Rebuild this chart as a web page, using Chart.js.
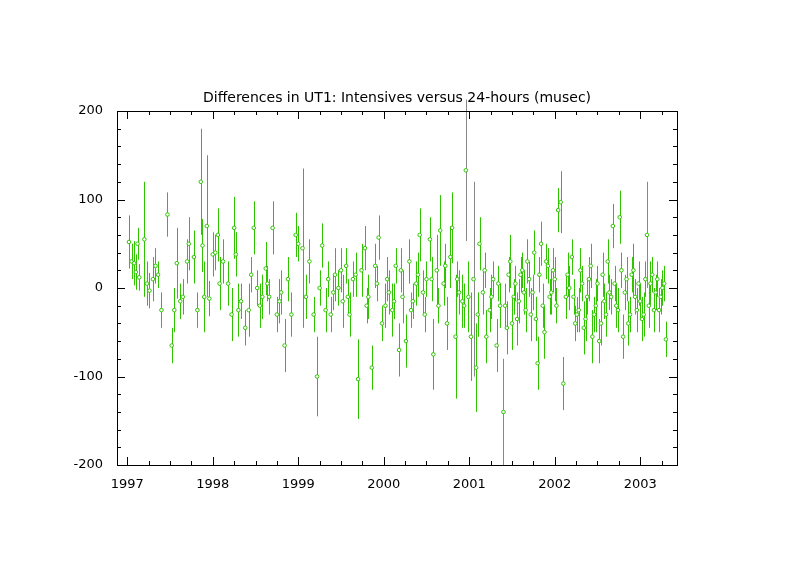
<!DOCTYPE html>
<html><head><meta charset="utf-8">
<script src="https://cdn.jsdelivr.net/npm/chart.js@4"></script>
<style>body{margin:0;background:#fff}#wrap{width:794px;height:577px}</style>
</head><body><div id="wrap"><canvas id="chart"></canvas></div>
<script>
const titleText = 'Differences in UT1: Intensives versus 24-hours (musec)';
const yearTicks = [1997, 1998, 1999, 2000, 2001, 2002, 2003];
const valueTicks = [-200, -100, 0, 100, 200];

const dates = [
  1997.02,1997.05,1997.08,1997.10,1997.12,1997.14,1997.20,1997.23,1997.26,1997.30,1997.33,1997.36,1997.40,1997.47,1997.52,1997.55,1997.58,1997.62,1997.65,1997.70,1997.72,1997.78,1997.82,1997.86,1997.88,1997.90,1997.93,1997.96,
  1998.00,1998.03,1998.06,1998.08,1998.12,1998.18,1998.22,1998.25,1998.27,1998.30,1998.33,1998.38,1998.42,1998.48,1998.52,1998.58,1998.62,1998.66,1998.70,1998.75,1998.80,1998.84,1998.88,1998.92,1998.97,
  1999.00,1999.05,1999.09,1999.13,1999.18,1999.22,1999.25,1999.28,1999.32,1999.38,1999.43,1999.47,1999.52,1999.56,1999.60,1999.64,1999.70,1999.74,1999.78,1999.82,1999.86,1999.90,1999.94,1999.98,
  2000.02,2000.06,2000.10,2000.14,2000.18,2000.22,2000.26,2000.30,2000.34,2000.38,2000.42,2000.46,2000.50,2000.54,2000.58,2000.62,2000.66,2000.70,2000.74,2000.78,2000.80,2000.84,2000.88,2000.92,2000.96,2000.99,
  2001.02,2001.05,2001.08,2001.12,2001.16,2001.20,2001.24,2001.28,2001.32,2001.36,2001.40,2001.44,2001.48,2001.52,2001.56,2001.60,2001.64,2001.68,2001.72,2001.76,2001.80,2001.84,2001.88,2001.92,2001.96,
  2002.00,2002.04,2002.07,2002.10,2002.13,2002.17,2002.20,2002.24,2002.28,2002.32,2002.36,2002.40,2002.44,2002.48,2002.52,2002.56,2002.60,2002.64,2002.68,2002.72,2002.76,2002.80,2002.84,2002.88,2002.92,2002.96,
  2003.00,2003.04,2003.08,2003.12,2003.16,2003.20,2003.24,2003.28,2003.30,
  1998.45,1998.55,1998.64,1998.78,1999.35,1999.41,1999.50,1999.58,1999.67,1999.80,1999.92,
  2000.04,2000.12,2000.20,2000.32,2000.40,2000.48,2000.56,2000.64,2000.72,2000.86,2000.94,
  2001.10,2001.18,2001.26,2001.34,2001.42,2001.46,2001.50,2001.54,2001.58,2001.62,2001.66,2001.70,2001.74,2001.78,2001.82,2001.86,2001.90,2001.94,2001.98,
  2002.02,2002.15,2002.22,2002.26,2002.30,2002.34,2002.38,2002.42,2002.46,2002.50,2002.54,2002.58,2002.62,2002.66,2002.70,2002.74,2002.78,2002.82,2002.86,2002.90,2002.94,2002.98,
  2003.02,2003.06,2003.10,2003.14,2003.18,2003.22,2003.26
];
const diffs = [
  52,30,28,18,50,12,55,5,-3,10,25,15,-25,83,-65,-25,28,-15,-10,30,50,35,-25,120,48,-10,70,-12,
  38,40,60,5,30,5,-30,68,38,-25,-15,-45,-25,68,0,-10,22,-10,68,-30,-5,-65,10,-30,60,
  50,45,-10,30,-30,-100,0,48,-25,-30,15,0,-15,25,-30,10,-103,20,45,-10,-90,25,57,-40,
  -20,-5,-25,25,-70,-10,-60,30,-15,5,60,-5,10,55,-75,20,65,5,-40,35,68,-55,-5,-15,133,-10,
  -55,10,-90,50,-5,-55,-25,10,-65,-20,-140,-45,30,-10,-35,15,-5,30,-30,40,-85,50,-50,25,-5,
  10,88,97,-108,-10,0,35,-40,-25,5,-35,10,-55,-20,-60,15,-30,-5,70,-20,80,-55,10,-30,20,-25,
  -15,-30,60,5,-25,10,-10,5,-58,
  15,-20,5,-15,10,-5,20,-10,15,-20,5,
  10,-15,20,-25,15,-30,10,-20,25,10,-20,
  -30,20,-10,5,-20,15,-40,5,-15,20,-25,10,-5,-35,15,-20,30,-10,20,
  -20,15,-10,-30,20,-45,-10,25,-30,5,-40,-15,30,-10,5,-25,20,-5,-40,15,-10,5,
  -35,10,-20,15,-5,-25,0
];
const errs = [
  30,20,25,20,18,15,65,25,20,25,20,15,20,25,20,25,40,20,20,25,30,30,20,60,30,40,80,20,
  25,20,30,30,25,25,30,35,25,30,20,20,30,30,20,25,30,20,30,20,25,30,25,25,25,
  20,90,25,25,20,45,20,25,25,20,30,20,30,20,25,20,45,30,25,25,25,25,25,20,
  25,25,30,20,30,30,30,25,20,25,30,25,20,25,40,40,40,25,30,35,40,70,25,30,80,40,
  50,110,50,30,25,30,25,20,30,25,60,30,30,20,30,20,25,25,30,25,30,25,30,20,25,
  25,25,35,30,25,25,20,20,25,20,25,25,30,30,25,25,25,20,25,25,30,25,25,20,30,25,
  20,25,60,25,25,20,20,20,20,
  20,25,20,25,20,20,25,20,25,20,20,
  25,20,25,20,25,20,25,20,25,20,25,
  25,20,25,20,25,20,30,20,25,20,25,20,20,25,20,25,20,20,25,
  20,25,20,20,25,30,20,25,20,20,25,20,25,20,20,25,20,20,25,20,20,25,
  25,20,25,20,20,25,20
];
const greyBars = [2000.96, 2001.05, 2001.40, 2003.08];

const green = '#2ec400';
const points = dates.map((d, i) => ({x: d, y: diffs[i]}));

const frame = {
  id: 'frame',
  beforeDatasetsDraw(chart) {
    const {ctx, scales: {x, y}} = chart;
    ctx.save();
    ctx.lineWidth = 1;
    dates.forEach((d, i) => {
      ctx.strokeStyle = greyBars.includes(d) ? '#888888' : green;
      const px = Math.round(x.getPixelForValue(d)) + 0.5;
      ctx.beginPath();
      ctx.moveTo(px, y.getPixelForValue(diffs[i] - errs[i]));
      ctx.lineTo(px, y.getPixelForValue(diffs[i] + errs[i]));
      ctx.stroke();
    });
    ctx.restore();
  },
  afterDraw(chart) {
    const {ctx, chartArea: a, scales: {x, y}} = chart;
    ctx.save();
    ctx.strokeStyle = '#000';
    ctx.lineWidth = 1;
    ctx.strokeRect(a.left + 0.5, a.top + 0.5, a.right - a.left, a.bottom - a.top);
    ctx.beginPath();
    for (let v = 1997; v <= 2003.4; v += 0.25) {
      const px = Math.round(x.getPixelForValue(v)) + 0.5;
      const len = Math.abs(v - Math.round(v)) < 1e-6 ? 8 : 4;
      ctx.moveTo(px, a.bottom); ctx.lineTo(px, a.bottom - len);
      ctx.moveTo(px, a.top); ctx.lineTo(px, a.top + len);
    }
    for (let v = -200; v <= 200; v += 20) {
      const py = Math.round(y.getPixelForValue(v)) + 0.5;
      const len = v % 100 === 0 ? 8 : 4;
      ctx.moveTo(a.left, py); ctx.lineTo(a.left + len, py);
      ctx.moveTo(a.right, py); ctx.lineTo(a.right - len, py);
    }
    ctx.stroke();
    ctx.fillStyle = '#000';
    ctx.font = '14px "DejaVu Sans"';
    ctx.textAlign = 'center';
    ctx.fillText(titleText, (a.left + a.right) / 2, 102);
    ctx.restore();
  }
};

new Chart(document.getElementById('chart'), {
  type: 'scatter',
  data: {datasets: [{
    data: points,
    borderColor: green,
    backgroundColor: '#fff',
    borderWidth: 1,
    pointRadius: 1.8,
    pointStyle: 'circle'
  }]},
  options: {
    responsive: true,
    maintainAspectRatio: false,
    animation: false,
    layout: {padding: {top: 111, right: 117, left: 0, bottom: 0}},
    plugins: {legend: {display: false}, tooltip: {enabled: false}},
    scales: {
      x: {
        type: 'linear', min: 1996.88, max: 2003.43,
        afterBuildTicks: s => { s.ticks = yearTicks.map(v => ({value: v})); },
        afterFit: s => { s.height = 112; },
        grid: {display: false},
        border: {display: false},
        ticks: {color: '#000', font: {family: 'DejaVu Sans', size: 13}, padding: 4, callback: v => String(v)}
      },
      y: {
        min: -200, max: 200,
        afterBuildTicks: s => { s.ticks = valueTicks.map(v => ({value: v})); },
        afterFit: s => { s.width = 117; },
        grid: {display: false},
        border: {display: false},
        ticks: {color: '#000', font: {family: 'DejaVu Sans', size: 13}, padding: 6}
      }
    }
  },
  plugins: [frame]
});
</script>
</body></html>
